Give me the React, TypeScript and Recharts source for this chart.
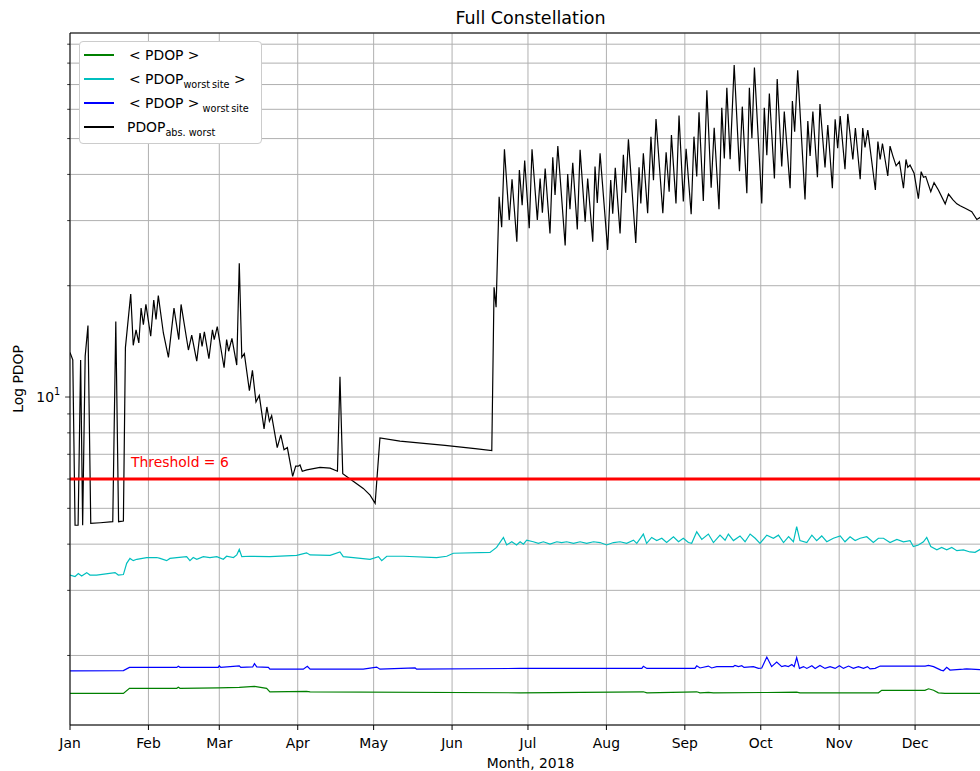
import React from "react";
import { LineChart, Line, XAxis, YAxis, CartesianGrid, ReferenceLine } from "recharts";

const FONT = '"DejaVu Sans", "Liberation Sans", sans-serif';

// day-of-year (0 = Jan 1, 2018)
const MONTH_TICKS = [0, 31, 59, 90, 120, 151, 181, 212, 243, 273, 304, 334];
const MONTH_LABELS = ["Jan", "Feb", "Mar", "Apr", "May", "Jun", "Jul", "Aug", "Sep", "Oct", "Nov", "Dec"];
const X_DOMAIN: [number, number] = [0, 364];
const Y_DOMAIN: [number, number] = [1.297, 96.5];
const Y_TICKS = [2, 3, 4, 5, 6, 7, 8, 9, 10, 20, 30, 40, 50, 60, 70, 80, 90];
const THRESHOLD = 6;

// <PDOP>
const greenSeries: [number, number][] = [
  [0, 1.579], [21.1, 1.579], [23.5, 1.63], [42.2, 1.63], [42.8, 1.64], [43.5, 1.63], [58.6, 1.635],
  [66.9, 1.64], [72.9, 1.65], [77.7, 1.63], [79, 1.595], [93.5, 1.6], [94.9, 1.595], [177.9, 1.585],
  [226.6, 1.595], [228, 1.585], [247.7, 1.595], [249, 1.585], [252.3, 1.59], [254.3, 1.585],
  [275.4, 1.588], [287.2, 1.592], [288.5, 1.585], [319.5, 1.585], [320.8, 1.61], [337.9, 1.61],
  [339.3, 1.625], [341.3, 1.61], [343.2, 1.585], [345.8, 1.58], [364, 1.579],
];

// <PDOP_worstsite>
const cyanSeries: [number, number][] = [
  [0, 3.3], [2, 3.27], [3.3, 3.33], [4.6, 3.28], [6.6, 3.35], [7.9, 3.3], [10.5, 3.3], [17.8, 3.35],
  [19.1, 3.3], [21.1, 3.31], [22.4, 3.55], [23.7, 3.66], [25, 3.61], [26.4, 3.64], [30.3, 3.68],
  [34.3, 3.68], [35.6, 3.66], [38.2, 3.61], [39.5, 3.66], [42.2, 3.68], [46.1, 3.7], [47.4, 3.61],
  [48.7, 3.68], [50.1, 3.64], [52.7, 3.7], [55.3, 3.68], [58, 3.7], [60.6, 3.64], [61.9, 3.71],
  [64.6, 3.68], [65.9, 3.74], [66.9, 3.87], [67.9, 3.7], [71.1, 3.71], [79, 3.7], [89.6, 3.73],
  [93.5, 3.79], [94.9, 3.74], [102.8, 3.73], [106.7, 3.81], [108, 3.7], [112, 3.68], [118.6, 3.64],
  [121.9, 3.7], [123.2, 3.61], [125.2, 3.71], [131.8, 3.71], [144.9, 3.68], [148.9, 3.71],
  [151.5, 3.78], [166, 3.8], [168.6, 3.92], [171.3, 4.17], [172.6, 3.98], [174.6, 4.06],
  [176.5, 3.98], [177.9, 4.06], [179.2, 4.0], [180.5, 4.1], [183.1, 4.06], [185.1, 4.02],
  [187.1, 4.06], [189.7, 4.0], [192.4, 4.06], [194.3, 4.04], [196.3, 4.06], [199, 4.02],
  [201.6, 4.06], [204.2, 4.02], [206.9, 4.06], [209.5, 4.04], [212.1, 3.98], [214.8, 4.04],
  [217.4, 4.06], [220, 4.02], [222.7, 4.1], [224, 4.02], [226.6, 4.26], [227.9, 4.02], [229.9, 4.17],
  [231.9, 4.09], [233.9, 4.15], [235.8, 4.04], [238.5, 4.19], [240.5, 4.06], [242.4, 4.15],
  [244.4, 4.04], [245.7, 4.02], [247.7, 4.32], [249.7, 4.12], [252.3, 4.26], [254.3, 4.04],
  [256.9, 4.23], [258.9, 4.1], [260.2, 4.26], [262.2, 4.09], [264.8, 4.21], [266.8, 4.06],
  [268.8, 4.26], [270.8, 4.15], [272.7, 4.02], [275.4, 4.23], [278, 4.15], [280, 4.23], [282, 4.04],
  [284, 4.19], [285.9, 4.06], [287.2, 4.46], [288.5, 4.09], [291.2, 4.04], [293.2, 4.23],
  [295.1, 4.09], [297.1, 4.21], [299.1, 4.06], [301.7, 4.15], [304.4, 4.21], [306.3, 4.06],
  [308.3, 4.19], [310.3, 4.09], [312.3, 4.15], [314.9, 4.19], [317.5, 4.04], [319.5, 4.15],
  [321.5, 4.15], [324.1, 4.04], [326.8, 4.12], [329.4, 4.06], [332, 4.09], [333.3, 3.94],
  [335.3, 3.98], [337.3, 4.06], [338.6, 4.17], [340.2, 3.94], [342.6, 3.86], [344.5, 3.92],
  [346.5, 3.86], [348.5, 3.92], [350.5, 3.84], [353.1, 3.86], [355.7, 3.81], [357.7, 3.8],
  [359.7, 3.87], [364, 3.85],
];

// <PDOP>_worstsite
const blueSeries: [number, number][] = [
  [0, 1.818], [21.1, 1.82], [23.5, 1.857], [42.2, 1.857], [42.8, 1.87], [43.5, 1.857], [58.6, 1.857],
  [59, 1.875], [59.6, 1.857], [66.9, 1.875], [67.5, 1.857], [72.2, 1.862], [72.9, 1.9], [73.8, 1.862],
  [78.4, 1.857], [79, 1.836], [92.2, 1.836], [93.8, 1.87], [94.9, 1.836], [115.9, 1.836],
  [121.2, 1.86], [122.5, 1.836], [136.4, 1.85], [137, 1.836], [177.9, 1.845], [226, 1.845],
  [226.6, 1.87], [228, 1.845], [247, 1.845], [247.7, 1.875], [249, 1.85], [252.3, 1.872],
  [253.6, 1.85], [255.6, 1.866], [262.2, 1.866], [262.8, 1.88], [264.2, 1.866], [265.5, 1.876],
  [266.4, 1.857], [270.1, 1.866], [272.1, 1.845], [273.4, 1.85], [275.4, 1.98], [277.3, 1.866],
  [279.3, 1.92], [281.3, 1.866], [282.6, 1.876], [283.9, 1.866], [285.3, 1.89], [286.2, 1.866],
  [287.2, 1.975], [288.3, 1.845], [289.9, 1.866], [291.2, 1.845], [293.2, 1.876], [294.5, 1.845],
  [296.4, 1.88], [298.4, 1.845], [300.4, 1.866], [302.4, 1.845], [304.1, 1.876], [305.7, 1.845],
  [307.7, 1.872], [309.6, 1.845], [311.6, 1.866], [313.6, 1.845], [315.2, 1.866], [316.2, 1.84],
  [318.2, 1.845], [320.2, 1.872], [338, 1.872], [339.3, 1.88], [341.3, 1.866], [344.2, 1.826],
  [345.2, 1.818], [346.5, 1.857], [347.8, 1.826], [353.1, 1.836], [354.4, 1.84], [359.7, 1.83],
  [364, 1.83],
];

// PDOP_abs. worst
const blackSeries: [number, number][] = [
  [0, 13.2], [1.1, 12.6], [2, 4.5], [3.2, 4.5], [4.2, 12.6], [5, 4.5], [6, 12.9], [7.1, 15.6],
  [8.2, 4.55], [12, 4.57], [16.9, 4.6], [18.1, 16.0], [19.2, 4.6], [21.1, 4.62], [21.9, 13.6],
  [24, 19.0], [25, 13.8], [26.1, 15.2], [27.2, 14.0], [28.1, 17.4], [29, 15.7], [30, 17.8],
  [31.9, 14.6], [33.1, 18.3], [34, 16.2], [34.9, 18.8], [36.9, 14.9], [38.9, 12.8], [41.1, 17.4],
  [43, 14.3], [43.9, 17.8], [46.8, 13.4], [48.1, 14.7], [50.1, 12.5], [51.4, 14.9], [52.2, 13.7],
  [53.1, 15.0], [54.9, 12.7], [56.3, 15.2], [57, 14.3], [58.2, 15.5], [60.9, 12.0], [61.9, 14.3],
  [62.7, 13.3], [64, 14.4], [65.9, 12.2], [66.9, 23.0], [67.9, 12.8], [68.9, 13.1], [70.9, 10.4],
  [72.1, 11.8], [73.5, 9.7], [74.8, 10.1], [76.7, 8.2], [77.8, 9.4], [78.8, 8.6], [79.7, 8.9],
  [81.9, 7.3], [83.3, 7.9], [84.6, 7.2], [85.9, 7.3], [88, 6.1], [89.2, 6.5], [90.2, 6.5],
  [90.9, 6.55], [91.8, 6.3], [93.6, 6.35], [98.8, 6.45], [102.8, 6.42], [105.7, 6.3], [106.7, 11.35],
  [107.8, 6.2], [110.7, 6.0], [115.9, 5.66], [118.6, 5.43], [120.6, 5.16], [122.5, 7.75],
  [130.4, 7.6], [148.2, 7.4], [160.1, 7.25], [166.7, 7.16], [167.6, 19.8], [168.4, 17.5],
  [169.6, 34.8], [170.6, 28.8], [171.7, 46.8], [173.6, 30.1], [174.7, 38.8], [176.6, 26.3],
  [177.6, 41.1], [178.7, 33.0], [179.7, 43.6], [181.5, 28.6], [182.6, 46.8], [184.7, 30.1],
  [185.8, 39.0], [186.7, 31.5], [187.8, 41.5], [189.7, 27.7], [190.8, 44.5], [191.7, 35.2],
  [192.8, 47.7], [195.7, 25.7], [196.7, 40.1], [197.6, 32.2], [198.7, 43.0], [200.5, 28.4],
  [201.6, 46.6], [203.6, 29.8], [204.6, 39.0], [206.6, 26.3], [207.5, 42.0], [208.4, 33.5],
  [209.5, 45.6], [212.5, 25.0], [213.7, 38.6], [214.5, 31.3], [215.5, 41.7], [217.4, 27.7],
  [218.7, 45.2], [219.6, 35.7], [220.7, 49.8], [223.6, 26.1], [224.9, 41.8], [225.6, 33.4],
  [226.6, 45.6], [228.3, 31.4], [229.6, 50.6], [230.6, 38.6], [231.6, 56.5], [234.3, 31.4],
  [235.6, 45.9], [236.8, 35.9], [237.7, 51.1], [239.5, 33.4], [240.7, 57.7], [242.4, 33.8],
  [243.5, 46.9], [245.5, 31.2], [246.6, 50.6], [247.7, 39.5], [248.6, 58.9], [250.3, 33.9],
  [251.7, 67.6], [253.4, 36.8], [254.6, 53.5], [256.5, 32.2], [257.6, 60.6], [258.6, 44.2],
  [259.6, 68.6], [260.9, 44.0], [262.5, 79.1], [264.6, 40.8], [265.7, 61.0], [267.5, 35.6],
  [268.5, 68.6], [269.5, 50.1], [270.5, 77.8], [273.4, 33.4], [274.4, 60.6], [275.4, 45.1],
  [276.4, 66.2], [278.4, 39.0], [279.5, 72.4], [281.3, 42.0], [282.3, 59.2], [284.6, 36.7],
  [285.5, 63.2], [286.4, 52.2], [287.6, 76.5], [290.5, 34.2], [291.6, 55.8], [292.5, 44.9],
  [293.6, 59.2], [295.4, 39.3], [296.4, 62.0], [298.4, 41.8], [299.5, 54.4], [301.3, 36.7],
  [302.4, 56.4], [303.4, 47.1], [304.4, 57.5], [306.3, 41.3], [307.4, 58.3], [309.4, 43.9],
  [310.4, 53.4], [312.3, 38.8], [313.3, 53.4], [314.2, 47.3], [315.3, 52.7], [318.3, 36.3],
  [319.3, 49.1], [320.2, 43.9], [321.1, 48.5], [323.2, 39.6], [324.1, 47.7], [325.2, 44.9],
  [326.5, 42.2], [327.8, 43.3], [329.4, 36.7], [330.4, 43.9], [331.1, 41.8], [332, 42.4],
  [333.6, 40.3], [335.3, 34.4], [336.4, 40.7], [337.3, 39.3], [338.2, 39.5], [340.2, 35.9],
  [341.5, 38.0], [343.2, 36.3], [345.9, 33.3], [347.2, 35.4], [348.9, 34.2], [350.5, 33.3],
  [351.8, 32.9], [353.8, 32.4], [356.4, 31.7], [358.4, 30.2], [359.7, 30.6], [361.7, 30.0],
  [364, 29.6],
];

const toRows = (pairs: [number, number][]) => pairs.map(([d, v]) => ({ d, v }));

const SERIES = [
  { key: "pdop", color: "#008000", data: greenSeries },
  { key: "worstsite", color: "#00bfbf", data: cyanSeries },
  { key: "meanworst", color: "#0000ff", data: blueSeries },
  { key: "absworst", color: "#000000", data: blackSeries },
];

const YTick = (props: any) => {
  const { x, y, payload } = props;
  const major = payload.value === 10;
  return (
    <g>
      <line x1={x - (major ? 4.9 : 2.8)} x2={x} y1={y} y2={y} stroke="#000" strokeWidth={0.8} />
      {major && (
        <text x={x - 9.8} y={y + 5} textAnchor="end" fontSize={13.9} fontFamily={FONT} fill="#000">
          10<tspan dy={-7} fontSize={9.7}>1</tspan>
        </text>
      )}
    </g>
  );
};

const ThresholdLabel = (props: any) => {
  const vb = props.viewBox || {};
  return (
    <text x={vb.x + 61} y={vb.y - 12} fill="#ff0000" fontSize={13.9} fontFamily={FONT}>
      Threshold = {THRESHOLD}
    </text>
  );
};

const legendItems = [
  { color: "#008000", pre: "< PDOP >", sub: "", post: "", left: 49 },
  { color: "#00bfbf", pre: "< PDOP", sub: "worst\u2009site", post: " >", left: 49 },
  { color: "#0000ff", pre: "< PDOP >", sub: " worst\u2009site", post: "", left: 49 },
  { color: "#000000", pre: "PDOP", sub: "abs. worst", post: "", left: 47 },
];
const legendRowsY = [13, 36.5, 60.5, 85];

export default function App() {
  return (
    <div
      style={{
        position: "absolute",
        left: 0,
        top: 0,
        width: 980,
        height: 771,
        overflow: "hidden",
        background: "#fff",
        fontFamily: FONT,
        color: "#000",
      }}
    >
      <LineChart width={1010} height={771} margin={{ top: 33, right: 19, bottom: 16, left: 10 }}>
        <CartesianGrid stroke="#b0b0b0" strokeWidth={1} />
        <XAxis
          dataKey="d"
          type="number"
          domain={X_DOMAIN}
          allowDataOverflow
          ticks={MONTH_TICKS}
          interval={0}
          tickFormatter={(v: number) => MONTH_LABELS[MONTH_TICKS.indexOf(v)]}
          height={30}
          tickSize={5}
          tickMargin={8}
          stroke="#000"
          tick={{ fill: "#000", fontSize: 13.9, fontFamily: FONT }}
        />
        <YAxis
          type="number"
          scale="log"
          domain={Y_DOMAIN}
          allowDataOverflow
          ticks={Y_TICKS}
          interval={0}
          width={60}
          tickSize={0}
          tickMargin={0}
          tickLine={false}
          stroke="#000"
          tick={(p: any) => <YTick {...p} />}
        />
        {SERIES.map((s) => (
          <Line
            key={s.key}
            data={toRows(s.data)}
            dataKey="v"
            type="linear"
            stroke={s.color}
            strokeWidth={1.2}
            dot={false}
            activeDot={false}
            isAnimationActive={false}
          />
        ))}
        <ReferenceLine y={THRESHOLD} stroke="#ff0000" strokeWidth={3} label={(p: any) => <ThresholdLabel {...p} />} />
        <ReferenceLine y={Y_DOMAIN[1]} stroke="#000" strokeWidth={1} />
      </LineChart>

      {/* title */}
      <div
        style={{
          position: "absolute",
          left: 70,
          width: 921,
          top: 8,
          lineHeight: "20px",
          textAlign: "center",
          fontSize: 17.5,
        }}
      >
        Full Constellation
      </div>

      {/* x label */}
      <div
        style={{
          position: "absolute",
          left: 70,
          width: 921,
          top: 753,
          lineHeight: "20px",
          textAlign: "center",
          fontSize: 13.9,
        }}
      >
        Month, 2018
      </div>

      {/* y label */}
      <div
        style={{
          position: "absolute",
          left: 18 - 60,
          top: 379 - 10,
          width: 120,
          height: 20,
          lineHeight: "20px",
          textAlign: "center",
          fontSize: 13.9,
          transform: "rotate(-90deg)",
        }}
      >
        Log PDOP
      </div>

      {/* legend */}
      <div
        style={{
          position: "absolute",
          left: 79,
          top: 41,
          width: 183,
          height: 103,
          boxSizing: "border-box",
          border: "1px solid #cccccc",
          borderRadius: 4,
          background: "#ffffff",
        }}
      >
        {legendItems.map((it, i) => (
          <div key={i} style={{ position: "absolute", left: 0, top: legendRowsY[i] - 10, height: 20, width: 181 }}>
            <div
              style={{
                position: "absolute",
                left: 4,
                top: 9,
                width: 30,
                height: 2,
                background: it.color,
              }}
            />
            <div
              style={{
                position: "absolute",
                left: it.left,
                top: 0,
                lineHeight: "20px",
                fontSize: 13.9,
                whiteSpace: "pre",
              }}
            >
              {it.pre}
              {it.sub && <span style={{ fontSize: 9.7, position: "relative", top: 4 }}>{it.sub}</span>}
              {it.post}
            </div>
          </div>
        ))}
      </div>
    </div>
  );
}
